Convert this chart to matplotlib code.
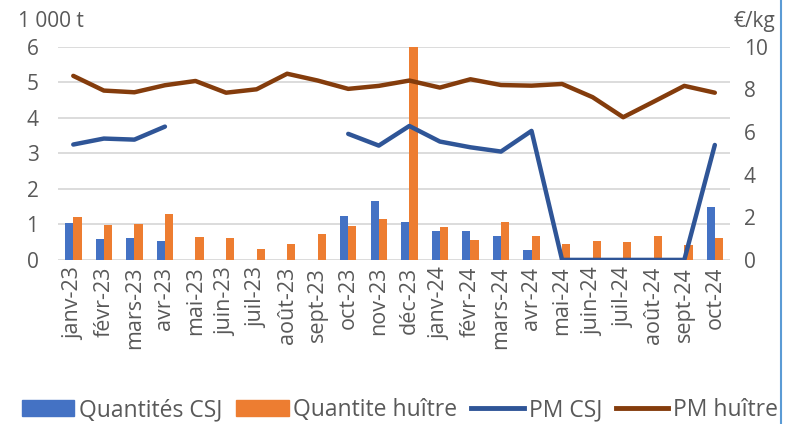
import numpy as np
import matplotlib
matplotlib.use("Agg")
import matplotlib.pyplot as plt
from matplotlib.patches import Patch
from matplotlib.lines import Line2D

plt.rcParams['font.family'] = ['Open Sans', 'DejaVu Sans']

mois = ["janv-23", "févr-23", "mars-23", "avr-23", "mai-23", "juin-23", "juil-23",
        "août-23", "sept-23", "oct-23", "nov-23", "déc-23", "janv-24", "févr-24",
        "mars-24", "avr-24", "mai-24", "juin-24", "juil-24", "août-24", "sept-24", "oct-24"]

# quantités en 1 000 t
qte_csj = [1.05, 0.59, 0.61, 0.54, 0, 0, 0, 0, 0, 1.24, 1.65, 1.07,
           0.80, 0.82, 0.66, 0.29, 0, 0, 0, 0, 0, 1.50]
qte_huitre = [1.21, 0.98, 1.01, 1.29, 0.65, 0.61, 0.31, 0.45, 0.74, 0.94, 1.14, 6.5,
              0.93, 0.57, 1.07, 0.66, 0.46, 0.52, 0.51, 0.67, 0.43, 0.61]

# prix moyens en €/kg
pm_csj = [5.41, 5.69, 5.64, 6.25, None, None, None, None, None, 5.91, 5.36, 6.28,
          5.55, 5.28, 5.08, 6.05, 0, 0, 0, 0, 0, 5.39]
pm_huitre = [8.63, 7.94, 7.86, 8.19, 8.39, 7.84, 8.00, 8.73, 8.41, 8.02, 8.16, 8.41,
             8.08, 8.47, 8.20, 8.17, 8.25, 7.63, 6.69, 7.42, 8.16, 7.84]

c_csj = "#4472C4"
c_hui = "#ED7D31"
c_pm_csj = "#2F5597"
c_pm_hui = "#843C0C"
gris = "#595959"

fig = plt.figure(figsize=(7.87, 4.24), dpi=100)
ax = fig.add_axes([0.0737, 0.387, 0.854, 0.503])
ax2 = ax.twinx()

x = np.arange(len(mois))
w = 0.27
ax.bar(x - w / 2, qte_csj, w, color=c_csj, zorder=2)
ax.bar(x + w / 2, qte_huitre, w, color=c_hui, zorder=2)

pm_csj_arr = np.array([np.nan if v is None else v for v in pm_csj], dtype=float)
ax2.plot(x, pm_csj_arr, color=c_pm_csj, lw=3.2, solid_capstyle="round")
ax2.plot(x, pm_huitre, color=c_pm_hui, lw=3.2, solid_capstyle="round")

ax.set_xlim(-0.5, len(mois) - 0.5)
ax.set_ylim(0, 6)
ax2.set_ylim(0, 10)
ax.set_yticks(range(0, 7))
ax2.set_yticks(range(0, 11, 2))
ax.yaxis.grid(True, color="#D9D9D9", lw=1.3, zorder=0)
ax.set_axisbelow(True)

for a in (ax, ax2):
    for s in a.spines.values():
        s.set_visible(False)
    a.tick_params(length=0, labelsize=15, colors=gris)

ax.set_xticks(x)
ax.set_xticklabels(mois, rotation=90, fontsize=15.5, color=gris)
ax.tick_params(axis="x", pad=5)
ax.tick_params(axis="y", pad=14)
ax2.tick_params(axis="y", pad=10)

fig.text(0.023, 0.95, "1 000 t", fontsize=15, color=gris, va="center")
fig.text(0.985, 0.95, "€/kg", fontsize=15, color=gris, va="center", ha="right")

handles = [Patch(color=c_csj), Patch(color=c_hui),
           Line2D([], [], color=c_pm_csj, lw=3.5),
           Line2D([], [], color=c_pm_hui, lw=3.5)]
labels = ["Quantités CSJ", "Quantite huître", "PM CSJ", "PM huître"]
fig.legend(handles, labels, loc="center", bbox_to_anchor=(0.508, 0.033), ncol=4,
           frameon=False, fontsize=16.5, labelcolor=gris, handlelength=2.3,
           handletextpad=0.2, columnspacing=0.6)

# bordure bleue à droite
fig.add_artist(Line2D([0.992, 0.992], [0, 1], color="#5B9BD5", lw=1.5))

fig.savefig("out.png", dpi=100)
